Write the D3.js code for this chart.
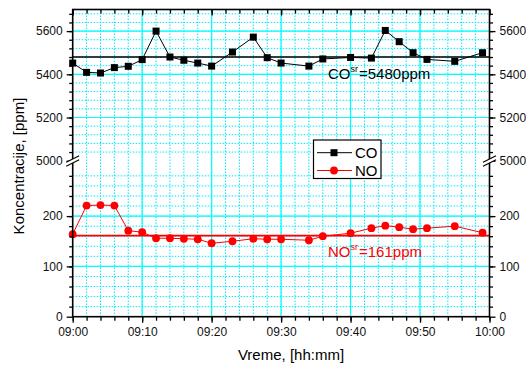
<!DOCTYPE html>
<html>
<head>
<meta charset="utf-8">
<script src="https://cdn.jsdelivr.net/npm/d3@7"></script>
<style>
  body { margin: 0; background: #fff; }
  svg text { font-family: "Liberation Sans", Arial, sans-serif; }
</style>
</head>
<body>
<svg id="canvas" width="526" height="365"></svg>
<script>
// data
let times = ['09:00','09:02','09:04','09:06','09:08','09:10','09:12','09:14','09:16','09:18','09:20','09:23','09:26',
             '09:28','09:30','09:34','09:36','09:40','09:43','09:45','09:47','09:49','09:51','09:55','09:59']
let coValues = [5452,5409,5406,5431,5437,5468,5600,5480,5465,5452,5438,5503,5572,5477,5452,5438,5471,5478,5475,5603,5551,5500,5469,5460,5500]
let noValues = [164,221,222,221,171,168,156,156,155,154,146,150,155,154,154,152,160,166,176,181,178,174,176,180,167]
let coMean = 5480
let noMean = 161
let upperTicks = [5000, 5200, 5400, 5600]
let lowerTicks = [0, 100, 200]

let parse = d3.timeParse('%H:%M')
let canvas = d3.select('#canvas')

let pLeft = 72.7, pRight = 489.5, pTop = 9.5, pBottom = 316.7
let breakY = 161

let x = d3.scaleTime().domain([parse('09:00'), parse('10:00')]).range([pLeft, pRight])
let yUp = d3.scaleLinear().domain([5000, 5700]).range([160.7, pTop])
let yLo = d3.scaleLinear().domain([0, 300]).range([pBottom, 165.8])

let coData = times.map((t, i) => ({t: parse(t), v: coValues[i]}))
let noData = times.map((t, i) => ({t: parse(t), v: noValues[i]}))

// grid
let grid = canvas.append('g')
let minorX = d3.timeMinute.every(2).range(parse('09:02'), parse('10:00'))
let majorX = d3.timeMinute.every(10).range(parse('09:10'), parse('10:00'))
grid.selectAll('.gxm').data(minorX).enter().append('line')
    .attr('x1', d => x(d)).attr('x2', d => x(d)).attr('y1', pTop).attr('y2', pBottom)
    .attr('stroke', '#00e8ff').attr('stroke-dasharray', '1.5,1.5')
grid.selectAll('.gxM').data(majorX).enter().append('line')
    .attr('x1', d => x(d)).attr('x2', d => x(d)).attr('y1', pTop).attr('y2', pBottom)
    .attr('stroke', '#00ffff').attr('stroke-width', 1.2)

let upMinor = d3.range(5040, 5700, 40)
let loMinor = d3.range(20, 300, 20)
grid.selectAll('.gum').data(upMinor).enter().append('line')
    .attr('x1', pLeft).attr('x2', pRight).attr('y1', d => yUp(d)).attr('y2', d => yUp(d))
    .attr('stroke', '#00e8ff').attr('stroke-dasharray', '1.5,1.5')
grid.selectAll('.glm').data(loMinor).enter().append('line')
    .attr('x1', pLeft).attr('x2', pRight).attr('y1', d => yLo(d)).attr('y2', d => yLo(d))
    .attr('stroke', '#00e8ff').attr('stroke-dasharray', '1.5,1.5')
grid.selectAll('.guM').data(upperTicks.slice(1)).enter().append('line')
    .attr('x1', pLeft).attr('x2', pRight).attr('y1', d => yUp(d)).attr('y2', d => yUp(d))
    .attr('stroke', '#00ffff').attr('stroke-width', 1.2)
grid.selectAll('.glM').data(lowerTicks.slice(1)).enter().append('line')
    .attr('x1', pLeft).attr('x2', pRight).attr('y1', d => yLo(d)).attr('y2', d => yLo(d))
    .attr('stroke', '#00ffff').attr('stroke-width', 1.2)

// mean lines
canvas.append('line').attr('x1', pLeft).attr('x2', pRight)
    .attr('y1', yUp(coMean)).attr('y2', yUp(coMean)).attr('stroke', '#000').attr('stroke-width', 1.5)
canvas.append('line').attr('x1', pLeft).attr('x2', pRight)
    .attr('y1', yLo(noMean)).attr('y2', yLo(noMean)).attr('stroke', '#ff0000').attr('stroke-width', 1.8)

// series
let coLine = d3.line().x(d => x(d.t)).y(d => yUp(d.v))
let noLine = d3.line().x(d => x(d.t)).y(d => yLo(d.v))
canvas.append('path').attr('d', coLine(coData)).attr('fill', 'none').attr('stroke', '#000').attr('stroke-width', 1)
canvas.append('path').attr('d', noLine(noData)).attr('fill', 'none').attr('stroke', '#ff0000').attr('stroke-width', 1)

canvas.selectAll('.co').data(coData).enter().append('rect')
    .attr('x', d => x(d.t) - 3.5).attr('y', d => yUp(d.v) - 3.5)
    .attr('width', 7).attr('height', 7).attr('fill', '#000')
canvas.selectAll('.no').data(noData).enter().append('circle')
    .attr('cx', d => x(d.t)).attr('cy', d => yLo(d.v)).attr('r', 3.9).attr('fill', '#ff0000')

// axes
let styleAxis = (g) => {
    g.select('.domain').remove()
    g.selectAll('line').attr('stroke', '#000').attr('stroke-width', 1.3)
    g.selectAll('text').attr('font-size', 12).attr('fill', '#111')
}
let noLabel = () => ''
let intFmt = d3.format('d')

// bottom
canvas.append('g').attr('transform', `translate(0,${pBottom})`)
    .call(d3.axisBottom(x).ticks(d3.timeMinute.every(2)).tickSize(4).tickFormat(noLabel)).call(styleAxis)
canvas.append('g').attr('transform', `translate(0,${pBottom})`)
    .call(d3.axisBottom(x).ticks(d3.timeMinute.every(10)).tickSize(6).tickPadding(5).tickFormat(d3.timeFormat('%H:%M'))).call(styleAxis)
// top (ticks inward)
canvas.append('g').attr('transform', `translate(0,${pTop})`)
    .call(d3.axisBottom(x).ticks(d3.timeMinute.every(2)).tickSize(4).tickFormat(noLabel)).call(styleAxis)
canvas.append('g').attr('transform', `translate(0,${pTop})`)
    .call(d3.axisBottom(x).ticks(d3.timeMinute.every(10)).tickSize(6).tickFormat(noLabel)).call(styleAxis)

// left and right, both segments
let sides = [[pLeft, d3.axisLeft], [pRight, d3.axisRight]]
sides.forEach(([px, mk]) => {
    canvas.append('g').attr('transform', `translate(${px},0)`)
        .call(mk(yUp).tickValues(upMinor.concat([5000])).tickSize(3.5).tickFormat(noLabel)).call(styleAxis)
    canvas.append('g').attr('transform', `translate(${px},0)`)
        .call(mk(yUp).tickValues(upperTicks).tickSize(6).tickPadding(4).tickFormat(intFmt)).call(styleAxis)
    canvas.append('g').attr('transform', `translate(${px},0)`)
        .call(mk(yLo).tickValues(loMinor).tickSize(3.5).tickFormat(noLabel)).call(styleAxis)
    canvas.append('g').attr('transform', `translate(${px},0)`)
        .call(mk(yLo).tickValues(lowerTicks).tickSize(6).tickPadding(4).tickFormat(intFmt)).call(styleAxis)
})

// frame
canvas.append('rect').attr('x', pLeft).attr('y', pTop).attr('width', pRight - pLeft).attr('height', pBottom - pTop)
    .attr('fill', 'none').attr('stroke', '#000').attr('stroke-width', 1.6)

// axis breaks
sides.forEach(([px]) => {
    canvas.append('polygon')
        .attr('points', `${px - 6},${breakY + 1} ${px + 6},${breakY - 5} ${px + 6},${breakY - 1} ${px - 6},${breakY + 5}`)
        .attr('fill', '#fff')
    canvas.append('line').attr('x1', px - 6.5).attr('y1', breakY + 1.2).attr('x2', px + 6.5).attr('y2', breakY - 5.2)
        .attr('stroke', '#000').attr('stroke-width', 1.2)
    canvas.append('line').attr('x1', px - 6.5).attr('y1', breakY + 5.2).attr('x2', px + 6.5).attr('y2', breakY - 1.2)
        .attr('stroke', '#000').attr('stroke-width', 1.2)
})

// axis titles
canvas.append('text').attr('x', 291).attr('y', 360).attr('text-anchor', 'middle')
    .attr('font-size', 15).attr('fill', '#000').text('Vreme, [hh:mm]')
canvas.append('text').attr('transform', 'translate(24,166) rotate(-90)').attr('text-anchor', 'middle')
    .attr('font-size', 15).attr('fill', '#000').text('Koncentracije, [ppm]')

// mean labels
let meanLabel = (name, value, y, color) => {
    let t = canvas.append('text').attr('x', 328).attr('y', y).attr('font-size', 15).attr('fill', color)
    t.append('tspan').text(name)
    t.append('tspan').attr('font-size', 9).attr('dy', -7).text('sr')
    t.append('tspan').attr('dy', 7).attr('dx', 1).text('=' + value + 'ppm')
}
meanLabel('CO', coMean, 79, '#000')
meanLabel('NO', noMean, 256.5, '#ff0000')

// legend
let lg = canvas.append('g')
lg.append('rect').attr('x', 313.5).attr('y', 140).attr('width', 67.5).attr('height', 38.5)
    .attr('fill', '#fff').attr('stroke', '#000').attr('stroke-width', 1.2)
lg.append('line').attr('x1', 317).attr('x2', 352).attr('y1', 152.7).attr('y2', 152.7).attr('stroke', '#000')
lg.append('rect').attr('x', 330.5).attr('y', 149.2).attr('width', 7).attr('height', 7).attr('fill', '#000')
lg.append('text').attr('x', 355).attr('y', 158).attr('font-size', 15).text('CO')
lg.append('line').attr('x1', 317).attr('x2', 352).attr('y1', 170.5).attr('y2', 170.5).attr('stroke', '#ff0000')
lg.append('circle').attr('cx', 334).attr('cy', 170.5).attr('r', 3.9).attr('fill', '#ff0000')
lg.append('text').attr('x', 355).attr('y', 176).attr('font-size', 15).text('NO')
</script>
</body>
</html>
